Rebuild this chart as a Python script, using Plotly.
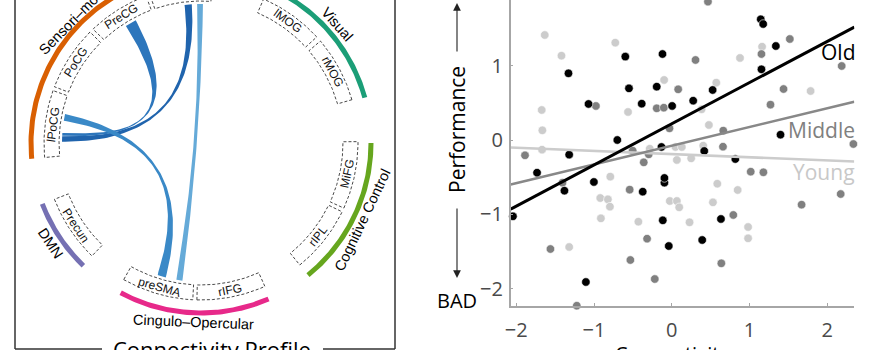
import numpy as np
import plotly.graph_objects as go

W, H = 882, 350

# ---------------- Scatter data (Connectivity vs Performance) ----------------
old_x = [1.144, 1.175, 1.338, 1.153, 0.525, -0.120, -0.598, -1.329, -0.551, -0.194, -0.387, 0.004,
         0.275, -1.071, -0.701, -0.133, 1.398, 0.417, 0.817, -1.320, -1.733, -1.381, -1.002, -0.374,
         -0.095, -0.095, -2.043, -0.116, 0.632, -0.039, 0.391, -1.105]
old_y = [1.624, 1.561, 1.265, 0.951, 0.673, 1.157, 1.122, 0.897, 0.695, 0.718, 0.489, 0.458,
         0.529, 0.485, 0.000, -0.094, 0.072, -0.148, -0.256, -0.197, -0.440, -0.682, -0.565, -0.695,
         -0.574, -0.511, -1.027, -1.081, -1.063, -1.427, -1.346, -1.911]

mid_x = [0.465, 1.518, 1.153, 2.185, 0.305, 0.082, 1.437, 1.269, -0.194, -0.103, -0.976, -2.095,
         -0.030, 0.662, 0.658, 2.335, -1.888, -0.503, -0.297, -0.361, 1.015, 1.178, -0.542, 2.172,
         1.669, 0.791, -0.318, -1.561, -0.533, 0.637, -0.219, -1.222, -1.406]
mid_y = [1.862, 1.359, 1.157, 0.996, 1.077, 0.682, 0.686, 0.476, 0.426, 0.435, 0.458, 0.417,
         0.157, 0.126, -0.090, -0.054, -0.206, -0.144, -0.193, -0.301, -0.426, -0.435, -0.668, -0.727,
         -0.870, -1.009, -1.328, -1.467, -1.615, -1.660, -1.871, -2.230, -0.574]

young_x = [-1.634, -0.727, -1.419, 0.877, 1.161, -0.099, 0.572, 1.785, -1.673, -0.563, 0.383, -1.665,
           0.477, -1.669, -0.284, 0.047, 0.129, 0.404, 0.065, 0.249, -0.791, 0.585, 0.847, -0.920,
           -0.822, -0.796, -0.026, 0.065, 0.095, 0.529, -0.912, -0.430, 0.228, 0.981, 0.981, -1.320, -0.516]
young_y = [1.413, 1.310, 1.135, 1.104, 1.256, 0.808, 0.772, 0.659, 0.404, 0.377, 0.413, 0.130,
           0.202, -0.130, -0.117, -0.094, -0.094, -0.076, -0.269, -0.247, -0.493, -0.588, -0.673, -0.781,
           -0.799, -0.897, -0.821, -0.821, -0.906, -0.839, -1.054, -1.099, -1.108, -1.171, -1.323, -1.440, -0.148]

fit_x = [-2.072, 2.347]
old_fit = [-0.93, 1.52]
mid_fit = [-0.60, 0.515]
young_fit = [-0.10, -0.29]

x_ticks = [-2, -1, 0, 1, 2]
y_ticks = [-2, -1, 0, 1]

# ---------------- Connectivity profile (circular diagram) data ----------------
group_names = ["Sensori–motor", "Visual", "Cognitive Control", "Cingulo–Opercular", "DMN"]
group_colors = ["#d95f02", "#1b9e77", "#66a61e", "#e7298a", "#7570b3"]
group_start = [86.0, 15.5, -51.0, -118.2, -159.0]
group_end = [185.3, 67.0, 0.0, -66.6, -133.8]

region_names = ["lPoCG", "PoCG", "PreCG", "", "lMOG", "rMOG", "MiFG", "rIPL", "preSMA", "rIFG", "Precun"]
region_start = [160.5, 135.0, 110.5, 86.0, 42.5, 16.0, -24.5, -51.0, -119.5, -91.5, -159.0]
region_end = [185.3, 159.0, 133.5, 109.0, 66.5, 40.5, 0.5, -26.0, -93.0, -66.0, -134.0]

chord_a_start = [93.8, 118.0, 168.0, 89.2]
chord_a_end = [96.8, 122.7, 170.8, 91.6]
chord_b_start = [177.0, 175.6, -108.3, -100.5]
chord_b_end = [179.5, 177.0, -104.7, -97.7]
chord_colors = ["#2064ad", "#2d76bc", "#3a89c7", "#65aad8"]

group_tags = ["Old", "Middle", "Young"]

# ---------------- helpers ----------------
def pol(r, deg):
    a = np.radians(deg)
    return r * np.cos(a), r * np.sin(a)

def arc(r, a0, a1, n=80):
    t = np.linspace(a0, a1, n)
    return pol(r, t)

def bez(p0, p2, n=90):
    t = np.linspace(0, 1, n)
    x = (1 - t) ** 2 * p0[0] + t ** 2 * p2[0]
    y = (1 - t) ** 2 * p0[1] + t ** 2 * p2[1]
    return x, y

def text_angle(theta):
    if np.sin(np.radians(theta)) >= -0.05:
        return 90 - theta
    return -90 - theta

fig = go.Figure()
left = dict(xaxis="x2", yaxis="y2", hoverinfo="skip", showlegend=False)

# group arcs
for col, a0, a1 in zip(group_colors, group_start, group_end):
    xo, yo = arc(172.5, a0, a1)
    xi, yi = arc(167.5, a1, a0)
    fig.add_trace(go.Scatter(x=np.r_[xo, xi, xo[:1]], y=np.r_[yo, yi, yo[:1]], mode="lines",
                             fill="toself", fillcolor=col, line=dict(width=0, color=col), **left))

# region boxes
for a0, a1 in zip(region_start, region_end):
    xo, yo = arc(157, a0, a1)
    xi, yi = arc(142, a1, a0)
    fig.add_trace(go.Scatter(x=np.r_[xo, xi, xo[:1]], y=np.r_[yo, yi, yo[:1]], mode="lines",
                             line=dict(width=0.9, color="#333333", dash="3px,2px"), **left))

# chords
R = 139
for a1, a2, b1, b2, col in zip(chord_a_start, chord_a_end, chord_b_start, chord_b_end, chord_colors):
    x1, y1 = arc(R, a1, a2, 20)
    x2, y2 = bez(pol(R, a2), pol(R, b1))
    x3, y3 = arc(R, b1, b2, 20)
    x4, y4 = bez(pol(R, b2), pol(R, a1))
    fig.add_trace(go.Scatter(x=np.r_[x1, x2, x3, x4], y=np.r_[y1, y2, y3, y4], mode="lines",
                             fill="toself", fillcolor=col, line=dict(width=0, color=col), **left))

annotations = []
lfont = "Liberation Sans, Arial, sans-serif"
for name, a0, a1 in zip(region_names, region_start, region_end):
    if not name:
        continue
    th = (a0 + a1) / 2
    x, y = pol(149.5, th)
    annotations.append(dict(x=x, y=y, xref="x2", yref="y2", text=name, showarrow=False,
                            textangle=text_angle(th), font=dict(family=lfont, size=12, color="#111"),
                            xanchor="center", yanchor="middle"))

group_r = [178, 181, 179, 179, 181]
for name, a0, a1, rr in zip(group_names, group_start, group_end, group_r):
    th = (a0 + a1) / 2
    x, y = pol(rr, th)
    annotations.append(dict(x=x, y=y, xref="x2", yref="y2", text=name, showarrow=False,
                            textangle=text_angle(th), font=dict(family=lfont, size=14.5, color="#000"),
                            xanchor="center", yanchor="middle"))

annotations.append(dict(x=212 / W, y=1 - 349 / H, xref="paper", yref="paper", text="Connectivity Profile",
                        showarrow=False, font=dict(family="Open Sans", size=22, color="#000"),
                        xanchor="center", yanchor="middle"))

# ---------------- scatter panel ----------------
for xs, ys, col in [(young_x, young_y, "#cccccc"), (mid_x, mid_y, "#808080"), (old_x, old_y, "#000000")]:
    fig.add_trace(go.Scatter(x=xs, y=ys, mode="markers", cliponaxis=False, showlegend=False,
                             marker=dict(size=8.5, color=col, line=dict(width=0.6, color="white"))))

for ys, col, w in [(young_fit, "#cccccc", 2.6), (mid_fit, "#888888", 2.6), (old_fit, "#000000", 3)]:
    fig.add_trace(go.Scatter(x=fit_x, y=ys, mode="lines", showlegend=False,
                             line=dict(color=col, width=w)))

sfont = "Open Sans"
for txt, py, col in zip(group_tags, [52, 130, 172], ["#000000", "#808080", "#c8c8c8"]):
    annotations.append(dict(x=857 / W, y=1 - py / H, xref="paper", yref="paper", text=txt, showarrow=False,
                            xanchor="right", yanchor="middle", font=dict(family=sfont, size=21, color=col)))

annotations.append(dict(x=457 / W, y=1 - 130 / H, xref="paper", yref="paper", text="Performance",
                        showarrow=False, textangle=-90, font=dict(family=sfont, size=21, color="#000"),
                        xanchor="center", yanchor="middle"))
annotations.append(dict(x=457.5 / W, y=1 - 300 / H, xref="paper", yref="paper", text="BAD",
                        showarrow=False, font=dict(family=sfont, size=20, color="#000"),
                        xanchor="center", yanchor="middle"))
annotations.append(dict(x=672 / W, y=1 - 354 / H, xref="paper", yref="paper", text="Connectivity",
                        showarrow=False, font=dict(family=sfont, size=20, color="#000"),
                        xanchor="center", yanchor="middle"))
annotations.append(dict(x=457 / W, y=1 - 3 / H, xref="paper", yref="paper", text="", ax=0, ay=50,
                        showarrow=True, arrowhead=2, arrowsize=1.4, arrowwidth=1.1, arrowcolor="#222"))
annotations.append(dict(x=457 / W, y=1 - 278 / H, xref="paper", yref="paper", text="", ax=0, ay=-71,
                        showarrow=True, arrowhead=2, arrowsize=1.4, arrowwidth=1.1, arrowcolor="#222"))

# frame of the left panel
fc = "#333333"
shapes = [
    dict(type="line", xref="paper", yref="paper", x0=15 / W, x1=15 / W, y0=1 - 349 / H, y1=1.02, line=dict(color=fc, width=1.5)),
    dict(type="line", xref="paper", yref="paper", x0=395 / W, x1=395 / W, y0=1 - 349 / H, y1=1.02, line=dict(color=fc, width=1.5)),
    dict(type="line", xref="paper", yref="paper", x0=15 / W, x1=102 / W, y0=1 - 349 / H, y1=1 - 349 / H, line=dict(color=fc, width=1.5)),
    dict(type="line", xref="paper", yref="paper", x0=323 / W, x1=395 / W, y0=1 - 349 / H, y1=1 - 349 / H, line=dict(color=fc, width=1.5)),
]

axcol = "#a6a6a6"
common = dict(showline=True, linecolor=axcol, linewidth=1.5, ticks="inside", ticklen=3, tickcolor=axcol,
              tickwidth=1.2, showgrid=False, zeroline=False,
              tickfont=dict(family=sfont, size=20, color="#4a4a4a"))

fig.update_layout(
    width=W, height=H, margin=dict(l=0, r=0, t=0, b=0), autosize=False,
    paper_bgcolor="white", plot_bgcolor="rgba(0,0,0,0)", template="none", showlegend=False,
    xaxis=dict(domain=[510.7 / W, 854.3 / W], range=[-2.072, 2.347], tickvals=x_ticks, anchor="y",
               ticklabelstandoff=5, **common),
    yaxis=dict(domain=[44 / H, 1], range=[-2.234, 1.884], tickvals=y_ticks, anchor="x",
               ticklabelstandoff=2, **common),
    xaxis2=dict(domain=[0, 400 / W], range=[-201, 199], visible=False, anchor="y2", fixedrange=True),
    yaxis2=dict(domain=[0, 1], range=[-207, 143], visible=False, anchor="x2", fixedrange=True),
    annotations=annotations, shapes=shapes,
)

fig.write_html("out.html")
